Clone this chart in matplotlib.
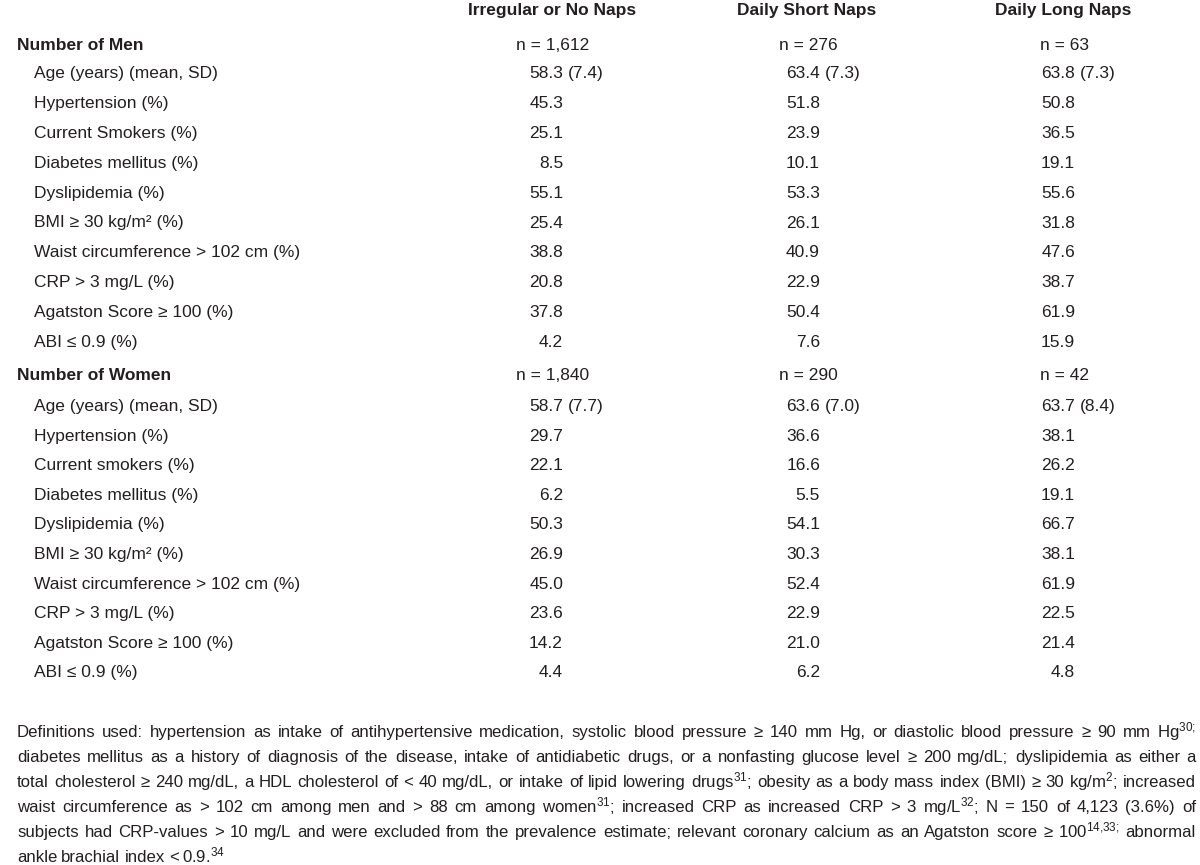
import matplotlib
matplotlib.use("Agg")
import matplotlib.pyplot as plt

# Table values
col_headers = ["Irregular or No Naps", "Daily Short Naps", "Daily Long Naps"]

men_labels = ["Age (years) (mean, SD)", "Hypertension (%)", "Current Smokers (%)",
              "Diabetes mellitus (%)", "Dyslipidemia (%)", "BMI \u2265 30 kg/m\u00b2 (%)",
              "Waist circumference > 102 cm (%)", "CRP > 3 mg/L (%)",
              "Agatston Score \u2265 100 (%)", "ABI \u2264 0.9 (%)"]
women_labels = ["Age (years) (mean, SD)", "Hypertension (%)", "Current smokers (%)",
                "Diabetes mellitus (%)", "Dyslipidemia (%)", "BMI \u2265 30 kg/m\u00b2 (%)",
                "Waist circumference > 102 cm (%)", "CRP > 3 mg/L (%)",
                "Agatston Score \u2265 100 (%)", "ABI \u2264 0.9 (%)"]

men_n = ["1,612", "276", "63"]
women_n = ["1,840", "290", "42"]

men_age_sd = [7.4, 7.3, 7.3]
women_age_sd = [7.7, 7.0, 8.4]

men_no_naps = [58.3, 45.3, 25.1, 8.5, 55.1, 25.4, 38.8, 20.8, 37.8, 4.2]
men_short_naps = [63.4, 51.8, 23.9, 10.1, 53.3, 26.1, 40.9, 22.9, 50.4, 7.6]
men_long_naps = [63.8, 50.8, 36.5, 19.1, 55.6, 31.8, 47.6, 38.7, 61.9, 15.9]

women_no_naps = [58.7, 29.7, 22.1, 6.2, 50.3, 26.9, 45.0, 23.6, 14.2, 4.4]
women_short_naps = [63.6, 36.6, 16.6, 5.5, 54.1, 30.3, 52.4, 22.9, 21.0, 6.2]
women_long_naps = [63.7, 38.1, 26.2, 19.1, 66.7, 38.1, 61.9, 22.5, 21.4, 4.8]

footnote_lines = [
    "Definitions used: hypertension as intake of antihypertensive medication, systolic blood pressure \u2265 140 mm Hg, or diastolic blood pressure \u2265 90 mm Hg$^{30;}$",
    "diabetes mellitus as a history of diagnosis of the disease, intake of antidiabetic drugs, or a nonfasting glucose level \u2265 200 mg/dL; dyslipidemia as either a",
    "total cholesterol \u2265 240 mg/dL, a HDL cholesterol of < 40 mg/dL, or intake of lipid lowering drugs$^{31}$; obesity as a body mass index (BMI) \u2265 30 kg/m$^{2}$; increased",
    "waist circumference as > 102 cm among men and > 88 cm among women$^{31}$; increased CRP as increased CRP > 3 mg/L$^{32}$; N = 150 of 4,123 (3.6%) of",
    "subjects had CRP-values > 10 mg/L and were excluded from the prevalence estimate; relevant coronary calcium as an Agatston score \u2265 100$^{14{,}33;}$ abnormal",
    "ankle brachial index < 0.9.$^{34}$",
]

main_font = "Liberation Sans"
plt.rcParams["font.family"] = [main_font, "DejaVu Sans"]
plt.rcParams["mathtext.fontset"] = "custom"
plt.rcParams["mathtext.rm"] = main_font
plt.rcParams["mathtext.it"] = main_font
plt.rcParams["mathtext.bf"] = main_font + ":bold"

TXT = "#231f20"
FS = 12.5
FS_NOTE = 12.1

fig = plt.figure(figsize=(12, 8.65), dpi=100)
ax = fig.add_axes([0, 0, 1, 1])
ax.set_xlim(0, 1200)
ax.set_ylim(865, 0)
ax.axis("off")

# column headers
header_x = [552, 807, 1063]
for x, h in zip(header_x, col_headers):
    ax.text(x, 15, h, ha="center", va="baseline", fontsize=FS, fontweight="bold", color=TXT)

n_x = [516, 779, 1040]        # left edge of "n = ..."
val_x = [563, 820, 1075]      # right edge of the numbers


def draw_block(title, n_vals, labels, cols, age_sd, y_title, y0, dy):
    ax.text(17, y_title, title, ha="left", va="baseline", fontsize=FS,
            fontweight="bold", color=TXT)
    for x, n in zip(n_x, n_vals):
        ax.text(x, y_title, "n = " + n, ha="left", va="baseline", fontsize=FS, color=TXT)
    for i, lab in enumerate(labels):
        y = y0 + i * dy
        ax.text(34, y, lab, ha="left", va="baseline", fontsize=FS, color=TXT)
        for j, col in enumerate(cols):
            ax.text(val_x[j], y, f"{col[i]:.1f}", ha="right", va="baseline",
                    fontsize=FS, color=TXT)
            if i == 0:
                ax.text(val_x[j] + 4.5, y, f"({age_sd[j]:.1f})", ha="left",
                        va="baseline", fontsize=FS, color=TXT)


draw_block("Number of Men", men_n, men_labels,
           [men_no_naps, men_short_naps, men_long_naps], men_age_sd, 50, 78, 29.9)
draw_block("Number of Women", women_n, women_labels,
           [women_no_naps, women_short_naps, women_long_naps], women_age_sd, 380, 411, 29.6)

# justified footnote
fig.canvas.draw()
renderer = fig.canvas.get_renderer()
left, right = 17, 1196
for k, line in enumerate(footnote_lines):
    y = 737 + k * 25
    words = line.split(" ")
    texts = [ax.text(0, y, w, ha="left", va="baseline", fontsize=FS_NOTE, color=TXT)
             for w in words]
    widths = [t.get_window_extent(renderer).width for t in texts]
    if k < len(footnote_lines) - 1:
        gap = (right - left - sum(widths)) / (len(words) - 1)
    else:
        gap = 4.0
    x = left
    for t, w in zip(texts, widths):
        t.set_x(x)
        x += w + gap

fig.savefig("out.png", dpi=100, facecolor="white")
